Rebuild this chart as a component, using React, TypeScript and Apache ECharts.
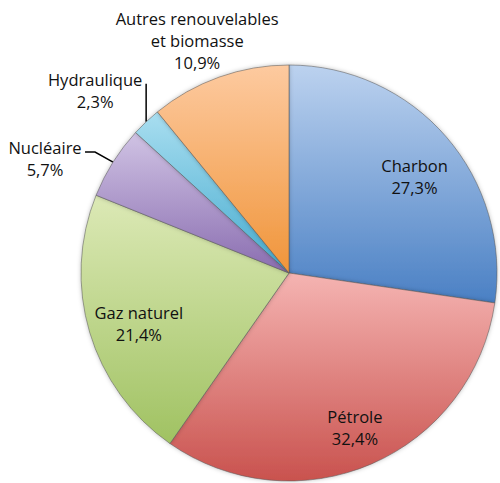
import React, { useEffect, useRef } from "react";
import * as echarts from "echarts";

const categories = ["Charbon", "Pétrole", "Gaz naturel", "Nucléaire", "Hydraulique", "Autres renouvelables\net biomasse"];
const values = [27.3, 32.4, 21.4, 5.7, 2.3, 10.9];
const valueLabels = ["27,3%", "32,4%", "21,4%", "5,7%", "2,3%", "10,9%"];
const topColors = ["#bcd2ef", "#f5b4b2", "#dce9b6", "#d0c3e4", "#a9def0", "#fdcaa0"];
const bottomColors = ["#4a80c4", "#c9524e", "#a0c262", "#8a6db0", "#45abcf", "#f0953a"];
const insideItems = [0, 1, 2];

const FONT = "'Open Sans', 'Noto Sans', sans-serif";
const CX = 289;
const CY = 273;
const R = 208;

// label offsets (annotation placement, relative to the slice's outer arc midpoint)
const outerLabelOffset: Record<number, [number, number]> = {
  3: [-68, -4],
  4: [-51, -31],
  5: [-22, -37],
};
const insideLabelShift: Record<number, [number, number]> = {
  0: [0, 12],
  1: [0, 2],
  2: [9, 3],
};

export default function App() {
  const ref = useRef<HTMLDivElement>(null);
  useEffect(() => {
    if (!ref.current) return;
    const chart = echarts.init(ref.current, undefined, { renderer: "svg" });
    const total = values.reduce((a, b) => a + b, 0);
    const arcPoint = (i: number) => {
      const before = values.slice(0, i).reduce((a, b) => a + b, 0);
      const mid = ((before + values[i] / 2) / total) * Math.PI * 2;
      return [CX + R * Math.sin(mid), CY - R * Math.cos(mid)];
    };
    const grad = (i: number) =>
      new echarts.graphic.LinearGradient(0, 0, 0, 1, [
        { offset: 0, color: topColors[i] },
        { offset: 1, color: bottomColors[i] },
      ]);
    const mainData = values.map((v, i) => {
      const inside = insideItems.includes(i);
      return {
        name: categories[i],
        value: v,
        itemStyle: { color: grad(i) },
        label: { show: !inside },
        labelLine: { show: !inside && i !== 5 },
      };
    });
    const ghostData = values.map((v, i) => ({
      name: categories[i],
      value: v,
      label: { show: insideItems.includes(i) },
    }));
    const labelText = {
      formatter: (p: any) => `${p.name}\n${valueLabels[p.dataIndex]}`,
      fontFamily: FONT,
      fontSize: 16.5,
      lineHeight: 22,
      color: "#111",
      align: "center",
    };
    chart.setOption({
      animation: false,
      series: [
        {
          type: "pie",
          center: [CX, CY],
          radius: [0, R],
          startAngle: 90,
          clockwise: true,
          avoidLabelOverlap: false,
          itemStyle: {
            borderColor: "rgba(90,90,90,0.55)",
            borderWidth: 1,
            shadowBlur: 4,
            shadowColor: "rgba(0,0,0,0.25)",
          },
          label: { position: "outside", ...labelText },
          labelLine: {
            length: 18,
            length2: 12,
            lineStyle: { color: "#000", width: 1.5 },
          },
          labelLayout: (p: any) => {
            const i = p.dataIndex;
            const off = outerLabelOffset[i];
            if (!off) return {};
            const [ax, ay] = arcPoint(i);
            const res: any = {
              x: ax + off[0],
              y: ay + off[1],
              align: "center",
              verticalAlign: "middle",
            };
            if (i === 3) {
              res.labelLinePoints = [
                [ax, ay],
                [ax - 18, ay - 10],
                [ax - 28, ay - 10],
              ];
            } else if (i === 4) {
              res.labelLinePoints = [
                [ax, ay],
                [ax, ay - 19],
                [ax, ay - 38],
              ];
            }
            return res;
          },
          emphasis: { disabled: true },
          data: mainData,
        },
        {
          type: "pie",
          center: [CX, CY],
          radius: [118, R],
          startAngle: 90,
          clockwise: true,
          silent: true,
          itemStyle: { color: "transparent" },
          label: { position: "inside", ...labelText },
          labelLine: { show: false },
          labelLayout: (p: any) => {
            const s = insideLabelShift[p.dataIndex];
            return s ? { dx: s[0], dy: s[1] } : {};
          },
          emphasis: { disabled: true },
          data: ghostData,
        },
      ],
    });
    return () => chart.dispose();
  }, []);
  return (
    <div
      ref={ref}
      style={{ position: "fixed", left: 0, top: 0, width: 500, height: 483, background: "#fff" }}
    />
  );
}
